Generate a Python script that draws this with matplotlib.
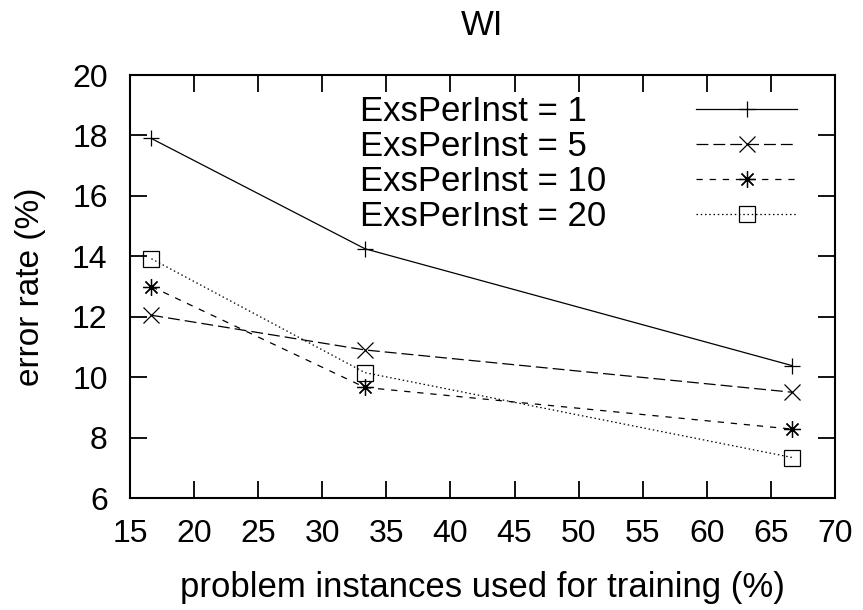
import matplotlib
matplotlib.use("Agg")
import matplotlib.pyplot as plt
from matplotlib.lines import Line2D

# training fraction (%) and error rates
x = [16.67, 33.33, 66.67]
err_1 = [17.9, 14.25, 10.38]
err_5 = [12.05, 10.9, 9.5]
err_10 = [13.0, 9.66, 8.28]
err_20 = [13.92, 10.15, 7.34]

labels = ["ExsPerInst = 1", "ExsPerInst = 5", "ExsPerInst = 10", "ExsPerInst = 20"]
xticks = [15, 20, 25, 30, 35, 40, 45, 50, 55, 60, 65, 70]
yticks = [6, 8, 10, 12, 14, 16, 18, 20]

plt.rcParams['font.family'] = ['Liberation Sans', 'DejaVu Sans']

fig = plt.figure(figsize=(8.63, 6.10), dpi=100)
ax = fig.add_axes([0.1506, 0.1836, 0.8170, 0.6934])

lw = 0.9
lines = []
lines += ax.plot(x, err_1, color="black", linewidth=lw, linestyle="-",
                 marker="+", markersize=12, markeredgewidth=lw)
lines += ax.plot(x, err_5, color="black", linewidth=lw, linestyle=(0, (9.5, 4)),
                 marker="x", markersize=11, markeredgewidth=lw)
lines += ax.plot(x, err_10, color="black", linewidth=lw, linestyle=(0, (5, 5.5)),
                 marker=(8, 2, 0), markersize=12, markeredgewidth=lw)
lines += ax.plot(x, err_20, color="black", linewidth=lw, linestyle=(0, (1.2, 2.2)),
                 marker="s", markersize=11, markeredgewidth=lw, fillstyle="none")

ax.set_xlim(15, 70)
ax.set_ylim(6, 20)
ax.set_xticks(xticks)
ax.set_yticks(yticks)
ax.tick_params(direction="in", length=12, width=1.3, top=True, right=True,
               labelsize=23)
ax.tick_params(axis="x", pad=15)
ax.tick_params(axis="y", pad=16)
for s in ax.spines.values():
    s.set_linewidth(1.5)

ax.set_title("WI", fontsize=25, y=(498 - 25) / 423, va="center", pad=0)
ax.set_xlabel("problem instances used for training (%)", fontsize=25)
ax.xaxis.label.set_verticalalignment("center")
ax.xaxis.set_label_coords(0.5, (498 - 588) / 423)
ax.set_ylabel("error rate (%)", fontsize=24)
ax.yaxis.label.set_verticalalignment("center")
ax.yaxis.set_label_coords((31 - 130) / 705, 0.5)

# gnuplot-style key: left-aligned labels, sample lines in a column on the right
fs = 25
blank = [Line2D([], [], linestyle="none") for _ in labels]
key_text = ax.legend(blank, labels, loc="upper left",
                     bbox_to_anchor=((360 - 130) / 705, (498 - 95) / 423),
                     frameon=False, fontsize=fs, handlelength=0, handletextpad=0,
                     labelspacing=0.06, borderpad=0, borderaxespad=0)
ax.add_artist(key_text)
ax.legend(lines, [""] * len(lines), loc="upper right",
          bbox_to_anchor=((797 - 130) / 705, (498 - 95) / 423),
          frameon=False, fontsize=fs, handlelength=2.9, handletextpad=0,
          labelspacing=0.06, borderpad=0, borderaxespad=0)

fig.savefig("out.png", dpi=100)
